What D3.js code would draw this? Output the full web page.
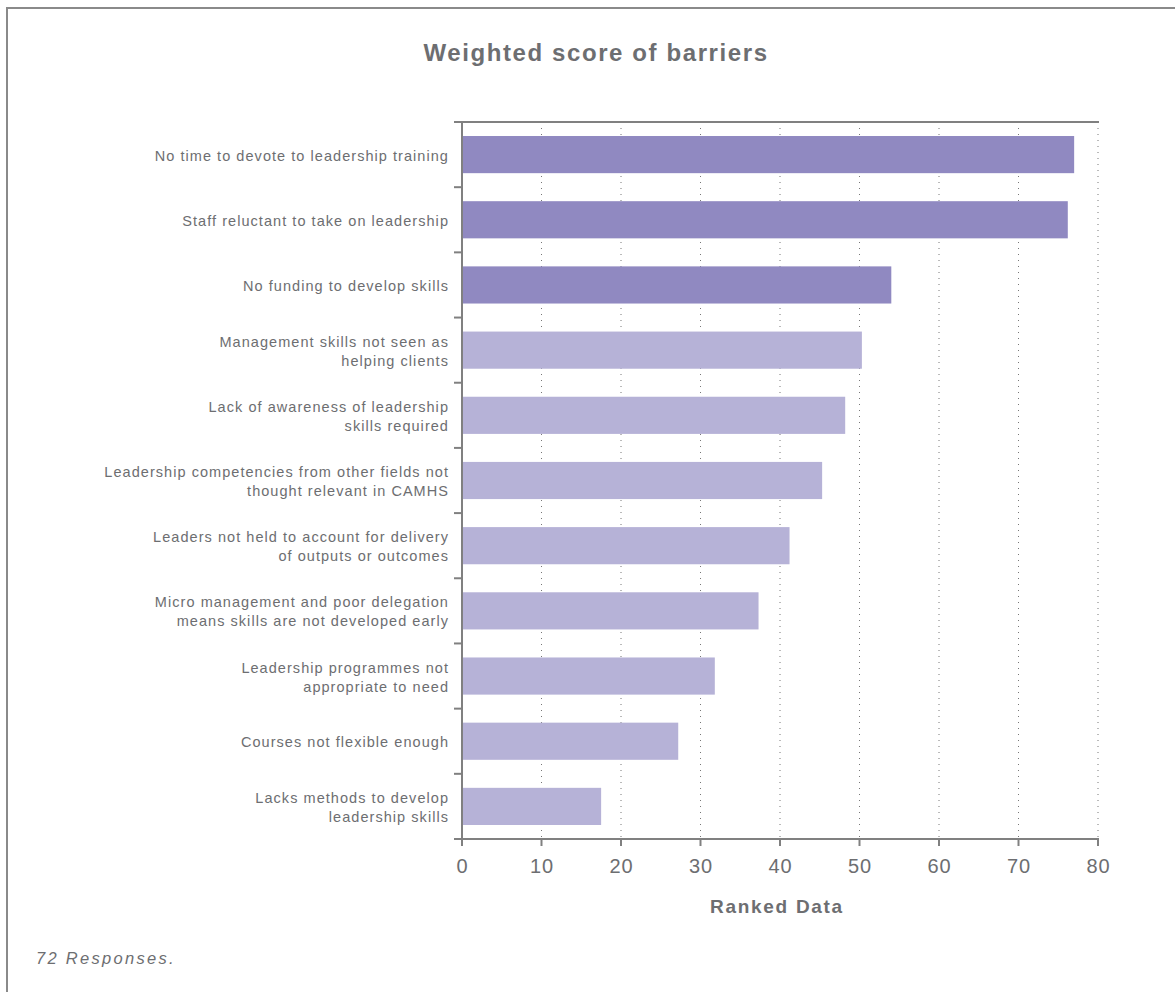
<!DOCTYPE html>
<html><head><meta charset="utf-8">
<script src="https://cdn.jsdelivr.net/npm/d3@7/dist/d3.min.js"></script>
<style>
body{margin:0;background:#fff;}
svg{display:block;font-family:"Liberation Sans",Arial,Helvetica,sans-serif;}
</style></head>
<body><svg id="c" width="1175" height="992"></svg>
<script>
const categories = [
  ["No time to devote to leadership training"],
  ["Staff reluctant to take on leadership"],
  ["No funding to develop skills"],
  ["Management skills not seen as", "helping clients"],
  ["Lack of awareness of leadership", "skills required"],
  ["Leadership competencies from other fields not", "thought relevant in CAMHS"],
  ["Leaders not held to account for delivery", "of outputs or outcomes"],
  ["Micro management and poor delegation", "means skills are not developed early"],
  ["Leadership programmes not", "appropriate to need"],
  ["Courses not flexible enough"],
  ["Lacks methods to develop", "leadership skills"]
];
const values = [77.0, 76.2, 54.0, 50.3, 48.2, 45.3, 41.2, 37.3, 31.8, 27.2, 17.5];
const highlighted = [true, true, true, false, false, false, false, false, false, false, false];
const xTicks = [0, 10, 20, 30, 40, 50, 60, 70, 80];
const title = "Weighted score of barriers";
const xTitle = "Ranked Data";
const note = "72 Responses.";

const svg = d3.select("#c");
const grey = "#6d6e71", axisCol = "#808080";
const L = 462, R = 1098, T = 122, B = 839;

svg.append("rect").attr("x", 7).attr("y", 8).attr("width", 1200).attr("height", 1000)
  .attr("fill", "none").attr("stroke", "#8a8a8a").attr("stroke-width", 2);

const x = d3.scaleLinear().domain([0, 80]).range([L, R]);
const idx = d3.range(categories.length);
const y = d3.scaleBand().domain(idx).range([T, B]).paddingInner(0.43).paddingOuter(0.215);
const yb = d3.scaleBand().domain(idx).range([T, B]);

// grid
svg.append("g").selectAll("line").data(xTicks.filter(d => d > 0)).join("line")
  .attr("x1", d => x(d)).attr("x2", d => x(d)).attr("y1", T).attr("y2", B)
  .attr("stroke", "#777").attr("stroke-width", 1).attr("stroke-dasharray", "1,5");

// bars
svg.append("g").selectAll("rect").data(values).join("rect")
  .attr("x", x(0)).attr("y", (d, i) => y(i)).attr("height", y.bandwidth())
  .attr("width", d => x(d) - x(0))
  .attr("fill", (d, i) => highlighted[i] ? "#9089c1" : "#b6b2d7");

// axes
const ax = svg.append("g").attr("stroke", axisCol).attr("stroke-width", 2).attr("fill", "none");
ax.append("line").attr("x1", L).attr("x2", L).attr("y1", T - 1).attr("y2", B + 1);
ax.append("line").attr("x1", L - 8).attr("x2", R + 1).attr("y1", T).attr("y2", T);
ax.append("line").attr("x1", L - 8).attr("x2", R + 1).attr("y1", B).attr("y2", B);
ax.selectAll(".yt").data(idx.slice(1)).join("line")
  .attr("x1", L - 8).attr("x2", L).attr("y1", i => yb(i)).attr("y2", i => yb(i));
ax.selectAll(".xt").data(xTicks).join("line")
  .attr("x1", d => x(d)).attr("x2", d => x(d)).attr("y1", B).attr("y2", B + 7);

// x tick labels
svg.append("g").selectAll("text").data(xTicks).join("text")
  .attr("x", d => x(d) + 0.5).attr("y", 873).attr("text-anchor", "middle")
  .attr("font-size", 20).attr("letter-spacing", 1).attr("fill", grey).text(d => d);

// y labels
const lab = svg.append("g").selectAll("text").data(categories).join("text")
  .attr("text-anchor", "end").attr("font-size", 14.5).attr("letter-spacing", 1.05).attr("fill", grey);
lab.each(function(lines, i) {
  const cy = yb(i) + yb.bandwidth() / 2 + 1;
  const lh = 19;
  const y0 = cy - (lines.length - 1) * lh / 2 + 5;
  d3.select(this).selectAll("tspan").data(lines).join("tspan")
    .attr("x", 449).attr("y", (d, k) => y0 + k * lh).text(d => d);
});

svg.append("text").attr("x", 596).attr("y", 61).attr("text-anchor", "middle")
  .attr("font-size", 24).attr("letter-spacing", 1.6).attr("font-weight", "bold").attr("fill", grey).text(title);
svg.append("text").attr("x", 777).attr("y", 913).attr("text-anchor", "middle")
  .attr("font-size", 19).attr("letter-spacing", 1.7).attr("font-weight", "bold").attr("fill", grey).text(xTitle);
svg.append("text").attr("x", 36).attr("y", 964)
  .attr("font-size", 16.5).attr("letter-spacing", 2.3).attr("font-style", "italic").attr("fill", grey).text(note);
</script></body></html>
